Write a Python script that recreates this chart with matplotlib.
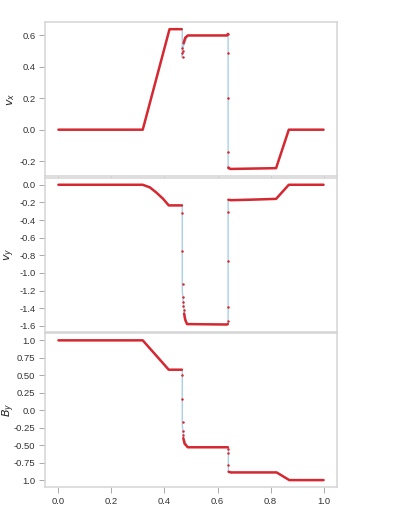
import matplotlib
matplotlib.use('Agg')
import matplotlib.pyplot as plt
import numpy as np

plt.rcParams['font.family'] = ['Liberation Sans', 'DejaVu Sans']
plt.rcParams['axes.unicode_minus'] = False

nan = np.nan

# v_x : reference (blue) and simulation (red) values
vx_ref_x = [0, 0.318, 0.419, 0.467, 0.467, 0.471, 0.488, 0.640, 0.640, 0.821, 0.869, 1.0]
vx_ref_y = [0, 0, 0.64, 0.64, 0.46, 0.53, 0.60, 0.60, -0.25, -0.245, 0, 0]
vx_sim_x = [0, 0.318, 0.419, 0.465, nan, 0.472, 0.478, 0.488, 0.636, 0.639, nan,
            0.642, 0.65, 0.72, 0.821, 0.869, 1.0]
vx_sim_y = [0, 0, 0.64, 0.64, nan, 0.55, 0.585, 0.60, 0.60, 0.61, nan,
            -0.245, -0.25, -0.248, -0.245, 0, 0]
vx_dot_x = [0.467, 0.467, 0.468, 0.470, 0.640, 0.640, 0.640, 0.641, 0.641]
vx_dot_y = [0.52, 0.49, 0.46, 0.50, 0.61, 0.49, 0.20, -0.143, -0.236]

# v_y
vy_ref_x = [0, 0.318, 0.345, 0.37, 0.395, 0.416, 0.467, 0.467, 0.475, 0.485, 0.640, 0.640,
            0.821, 0.869, 1.0]
vy_ref_y = [0, 0, -0.03, -0.09, -0.16, -0.234, -0.234, -1.2, -1.45, -1.58, -1.58, -0.17,
            -0.16, 0, 0]
vy_sim_x = [0, 0.318, 0.345, 0.37, 0.395, 0.416, 0.466, nan,
            0.474, 0.478, 0.485, 0.635, 0.639, nan,
            0.641, 0.65, 0.72, 0.821, 0.869, 1.0]
vy_sim_y = [0, 0, -0.03, -0.09, -0.16, -0.234, -0.234, nan,
            -1.46, -1.53, -1.58, -1.585, -1.58, nan,
            -0.17, -0.175, -0.17, -0.16, 0, 0]
vy_dot_x = [0.467, 0.467, 0.468, 0.469, 0.470, 0.471, 0.472, 0.640, 0.640, 0.640, 0.640]
vy_dot_y = [-0.318, -0.75, -1.13, -1.27, -1.33, -1.38, -1.42, -1.54, -1.39, -0.86, -0.31]

# B_y
by_ref_x = [0, 0.318, 0.416, 0.467, 0.467, 0.472, 0.488, 0.641, 0.641, 0.823, 0.871, 1.0]
by_ref_y = [1, 1, 0.58, 0.58, -0.2, -0.4, -0.53, -0.53, -0.89, -0.89, -1.0, -1.0]
by_sim_x = [0, 0.318, 0.416, 0.466, nan, 0.471, 0.476, 0.488, 0.639, nan,
            0.642, 0.65, 0.823, 0.871, 1.0]
by_sim_y = [1, 1, 0.58, 0.58, nan, -0.40, -0.48, -0.53, -0.53, nan,
            -0.88, -0.89, -0.89, -1.0, -1.0]
by_dot_x = [0.467, 0.467, 0.468, 0.469, 0.470, 0.641, 0.641, 0.641]
by_dot_y = [0.51, 0.16, -0.17, -0.30, -0.36, -0.61, -0.78, -0.55]

xticks = [0.0, 0.2, 0.4, 0.6, 0.8, 1.0]
xtick_labels = ['0.0', '0.2', '0.4', '0.6', '0.8', '1.0']
vx_ticks = [-0.2, 0.0, 0.2, 0.4, 0.6]
vx_labels = ['-0.2', '0.0', '0.2', '0.4', '0.6']
vy_ticks = [0.0, -0.2, -0.4, -0.6, -0.8, -1.0, -1.2, -1.4, -1.6]
vy_labels = ['0.0', '-0.2', '-0.4', '-0.6', '-0.8', '-1.0', '-1.2', '-1.4', '-1.6']
by_ticks = [1.0, 0.75, 0.5, 0.25, 0.0, -0.25, -0.5, -0.75, -1.0]
by_labels = ['1.0', '0.75', '0.50', '0.25', '0.0', '-0.25', '-0.50', '-0.75', '1.0']

red = '#d62830'
blue = '#a9d0e6'

fig, axes = plt.subplots(3, 1, figsize=(3.93, 5.16), dpi=100, sharex=True)
fig.subplots_adjust(left=0.115, right=0.857, top=0.957, bottom=0.056, hspace=0.012)

panels = [
    (vx_ref_x, vx_ref_y, vx_sim_x, vx_sim_y, vx_dot_x, vx_dot_y, vx_ticks, vx_labels, '$v_x$'),
    (vy_ref_x, vy_ref_y, vy_sim_x, vy_sim_y, vy_dot_x, vy_dot_y, vy_ticks, vy_labels, '$v_y$'),
    (by_ref_x, by_ref_y, by_sim_x, by_sim_y, by_dot_x, by_dot_y, by_ticks, by_labels, '$B_y$'),
]

for ax, (rx, ry, sx, sy, dx, dy, yt, yl, lab) in zip(axes, panels):
    ax.plot(rx, ry, color=blue, lw=1.0, zorder=2)
    ax.plot(sx, sy, color=red, lw=1.8, zorder=3, solid_capstyle='round')
    ax.plot(dx, dy, 'o', color=red, ms=1.8, mew=0, zorder=4)
    ax.set_xlim(-0.05, 1.05)
    ax.set_yticks(yt)
    ax.set_yticklabels(yl)
    ax.set_xticks(xticks)
    for s in ax.spines.values():
        s.set_color('#d4d4d4')
        s.set_linewidth(1.1)
    ax.tick_params(direction='out', length=4, width=0.7, color='#aaaaaa',
                   labelsize=6.8, labelcolor='#333333', pad=3)
    ax.set_ylabel(lab, fontsize=8, color='#222222')
    ax.yaxis.set_label_coords(-0.097, 0.5)

axes[-1].set_xticklabels(xtick_labels)

plt.savefig('out.png', dpi=100)
